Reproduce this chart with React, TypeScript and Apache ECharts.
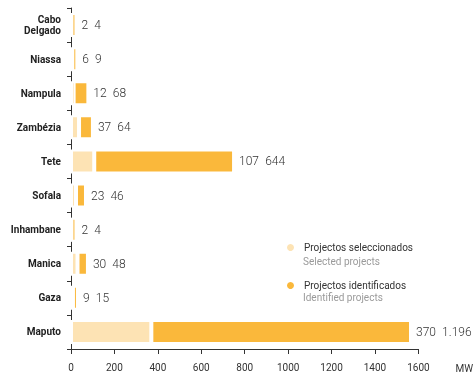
import React, { useEffect, useRef } from "react";
import * as echarts from "echarts";

// Installed capacity by province (MW)
const provinces = [
  "Cabo\nDelgado",
  "Niassa",
  "Nampula",
  "Zambézia",
  "Tete",
  "Sofala",
  "Inhambane",
  "Manica",
  "Gaza",
  "Maputo",
];
const selectedMW = [2, 6, 12, 37, 107, 23, 2, 30, 9, 370];
const identifiedMW = [4, 9, 68, 64, 644, 46, 4, 48, 15, 1196];
const xTicks = { min: 0, max: 1600, interval: 200 };

const legendNames = ["Projectos seleccionados", "Projectos identificados"];
const legendSubtitles = ["Selected projects", "Identified projects"];

const COLOR_SELECTED = "#FDE3B4";
const COLOR_IDENTIFIED = "#FAB83B";
const FONT = "Roboto, 'Noto Sans', sans-serif";

// Portuguese-style thousands separator: 1196 -> "1.196"
const fmt = (v: number) => String(v).replace(/\B(?=(\d{3})+(?!\d))/g, ".");

export default function App() {
  const ref = useRef<HTMLDivElement>(null);

  useEffect(() => {
    if (!ref.current) return;
    const chart = echarts.init(ref.current, null, { renderer: "svg" });

    chart.setOption({
      animation: false,
      textStyle: { fontFamily: FONT },
      grid: { left: 71, right: 56, top: 8, bottom: 25, containLabel: false },
      legend: {
        orient: "vertical",
        left: 285,
        top: 242,
        padding: 0,
        itemGap: 27,
        itemWidth: 9,
        itemHeight: 9,
        icon: "circle",
        selectedMode: false,
        data: legendNames,
        textStyle: {
          fontFamily: FONT,
          fontSize: 10,
          color: "#333",
          padding: [0, 0, 0, 4],
        },
      },
      xAxis: {
        type: "value",
        min: xTicks.min,
        max: xTicks.max,
        interval: xTicks.interval,
        name: "MW",
        nameLocation: "end",
        nameGap: 37,
        nameTextStyle: {
          fontFamily: FONT,
          fontSize: 10,
          color: "#333",
          align: "left",
          verticalAlign: "top",
          padding: [14, 0, 0, 0],
        },
        axisLine: { show: true, lineStyle: { color: "#333", width: 1 } },
        axisTick: { show: true, length: 5, lineStyle: { color: "#333" } },
        splitLine: { show: false },
        axisLabel: {
          fontFamily: FONT,
          fontSize: 10,
          color: "#333",
          margin: 13,
          formatter: (v: number) => String(v),
        },
      },
      yAxis: {
        type: "category",
        inverse: true,
        data: provinces,
        axisLine: { show: true, lineStyle: { color: "#333", width: 1 } },
        axisTick: { show: true, length: 4, lineStyle: { color: "#333" } },
        axisLabel: {
          fontFamily: FONT,
          fontSize: 10,
          fontWeight: "bold",
          color: "#222",
          margin: 10,
          lineHeight: 11,
        },
      },
      series: [
        {
          name: legendNames[0],
          type: "bar",
          stack: "total",
          barWidth: 24,
          barMinHeight: 5,
          data: selectedMW,
          itemStyle: { color: COLOR_SELECTED, borderColor: "#fff", borderWidth: 2 },
        },
        {
          name: legendNames[1],
          type: "bar",
          stack: "total",
          barWidth: 24,
          barMinHeight: 5,
          data: identifiedMW,
          itemStyle: { color: COLOR_IDENTIFIED, borderColor: "#fff", borderWidth: 2 },
          label: {
            show: true,
            position: "right",
            distance: 5,
            fontFamily: FONT,
            fontSize: 12,
            fontWeight: 300,
            color: "#333",
            formatter: (p: any) =>
              `${fmt(selectedMW[p.dataIndex])}\u2002${fmt(identifiedMW[p.dataIndex])}`,
          },
        },
      ],
      graphic: legendSubtitles.map((t, i) => ({
        type: "text",
        left: 303,
        top: 256 + i * 36,
        style: { text: t, fontFamily: FONT, fontSize: 10, fill: "#9a9a9a" },
      })),
    });

    return () => chart.dispose();
  }, []);

  return (
    <div
      ref={ref}
      style={{ position: "fixed", left: 0, top: 0, width: 476, height: 374 }}
    />
  );
}
